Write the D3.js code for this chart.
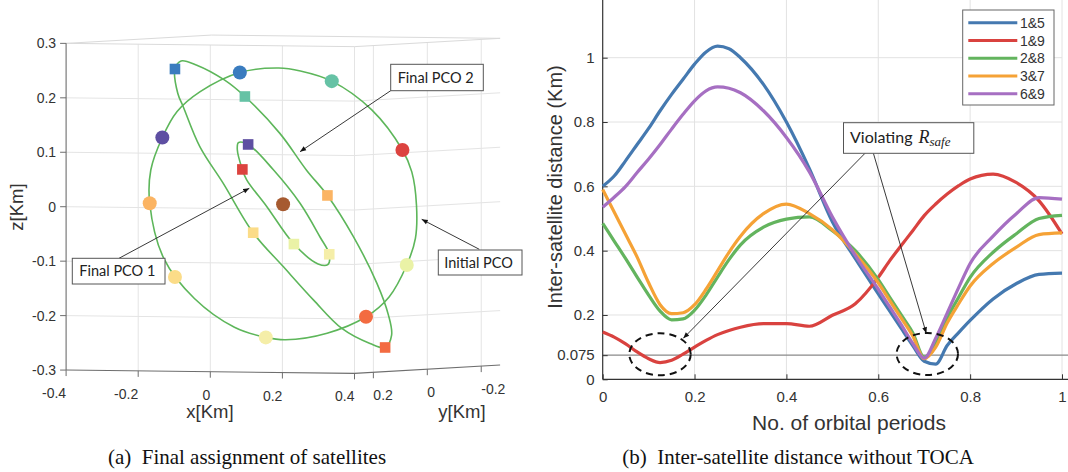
<!DOCTYPE html>
<html>
<head>
<meta charset="utf-8">
<script src="https://cdn.jsdelivr.net/npm/d3@7"></script>
<style>
  body { margin: 0; background: #fff; }
  svg { display: block; }
  text { font-family: "Liberation Sans", Arial, sans-serif; fill: #333; }
  .box-label { font-family: Lato, "Open Sans", sans-serif; fill: #222; }
  .caption { font-family: "Liberation Serif", "Times New Roman", serif; fill: #111; }
</style>
</head>
<body>
<svg id="chart" width="1068" height="472"></svg>
<script>
// ---------- panel (a): satellites, view-plane coordinates [x, z] in km (y = 0) ----------
var initialOrbit = [[-0.012, 0.250], [0.048, 0.245], [0.135, 0.227], [0.246, 0.175], [0.331, 0.102],
                    [0.357, 0.062], [0.370, 0.001], [0.367, -0.060], [0.343, -0.109], [0.294, -0.168],
                    [0.230, -0.205], [0.122, -0.236], [0.007, -0.249], [-0.048, -0.245], [-0.135, -0.227],
                    [-0.246, -0.175], [-0.331, -0.102], [-0.370, -0.001], [-0.367, 0.060], [-0.335, 0.120],
                    [-0.294, 0.168], [-0.230, 0.205], [-0.120, 0.241]];
var finalOrbit1 = [[-0.124, 0.112], [-0.097, 0.109], [-0.027, 0.063], [0.047, 0.002], [0.102, -0.059],
                   [0.128, -0.091], [0.124, -0.110], [0.097, -0.109], [0.030, -0.073], [-0.045, -0.005],
                   [-0.101, 0.044], [-0.113, 0.063], [-0.127, 0.099]];
var finalOrbit2 = [[-0.283, 0.261], [-0.241, 0.254], [-0.163, 0.227], [-0.106, 0.197], [-0.009, 0.130],
                   [0.065, 0.063], [0.123, 0.017], [0.195, -0.058], [0.260, -0.143], [0.292, -0.201],
                   [0.301, -0.238], [0.283, -0.261], [0.241, -0.254], [0.163, -0.227], [0.084, -0.175],
                   [0.001, -0.115], [-0.083, -0.053], [-0.166, 0.037], [-0.231, 0.104], [-0.277, 0.177],
                   [-0.292, 0.201], [-0.300, 0.246]];
// satellites 1..9: initial slot (circle) and final slot (square)
var satInitial = [[-0.120, 0.241], [0.135, 0.227], [0.331, 0.102], [-0.335, 0.120], [-0.370, -0.001],
                  [-0.300, -0.136], [0.343, -0.109], [-0.048, -0.245], [0.230, -0.205]];
var satFinal = [[-0.300, 0.246], [-0.106, 0.197], [-0.113, 0.063], [-0.097, 0.109], [0.123, 0.017],
                [-0.083, -0.053], [0.030, -0.073], [0.128, -0.091], [0.283, -0.261]];
var chief = [0, 0];
var satColors = ['#3a7cbf', '#66c2a5', '#dc433f', '#5e4fa2', '#fbb463', '#fbdc88', '#eaf2a6', '#f5eea8', '#f36b41'];
var xTicks3 = [-0.4, -0.2, 0, 0.2, 0.4];
var yTicks3 = [0.2, 0, -0.2];
var zTicks3 = [-0.3, -0.2, -0.1, 0, 0.1, 0.2, 0.3];

// ---------- panel (b): inter-satellite distance (km) ----------
var periods = [0, 0.025, 0.05, 0.075, 0.1, 0.125, 0.15, 0.175, 0.2, 0.225, 0.25, 0.275, 0.3,
               0.35, 0.4, 0.45, 0.5, 0.55, 0.6, 0.625, 0.65, 0.675, 0.7, 0.725, 0.75, 0.775, 0.8,
               0.85, 0.9, 0.95, 1];
var pairs = ['1&5', '1&9', '2&8', '3&7', '6&9'];
var dist15 = [0.600, 0.632, 0.680, 0.730, 0.780, 0.835, 0.886, 0.933, 0.980, 1.018, 1.036, 1.028, 1.000,
              0.917, 0.800, 0.655, 0.490, 0.375, 0.266, 0.212, 0.158, 0.105, 0.056, 0.047, 0.105, 0.145, 0.183,
              0.250, 0.297, 0.326, 0.330];
var dist19 = [0.147, 0.131, 0.110, 0.085, 0.064, 0.052, 0.059, 0.078, 0.100, 0.121, 0.139, 0.152, 0.162,
              0.173, 0.173, 0.165, 0.199, 0.235, 0.317, 0.369, 0.416, 0.462, 0.509, 0.545, 0.576, 0.602, 0.623,
              0.638, 0.612, 0.555, 0.452];
var dist28 = [0.485, 0.430, 0.375, 0.318, 0.262, 0.212, 0.185, 0.188, 0.215, 0.262, 0.318, 0.372, 0.418,
              0.473, 0.498, 0.505, 0.462, 0.400, 0.310, 0.255, 0.200, 0.145, 0.069, 0.110, 0.190, 0.255, 0.317,
              0.395, 0.452, 0.500, 0.510];
var dist37 = [0.590, 0.520, 0.450, 0.380, 0.300, 0.232, 0.204, 0.207, 0.232, 0.280, 0.337, 0.395, 0.445,
              0.515, 0.545, 0.515, 0.465, 0.390, 0.300, 0.245, 0.190, 0.135, 0.064, 0.100, 0.175, 0.235, 0.290,
              0.360, 0.410, 0.450, 0.455];
var dist69 = [0.535, 0.566, 0.600, 0.643, 0.685, 0.730, 0.778, 0.824, 0.866, 0.897, 0.909, 0.905, 0.891,
              0.835, 0.752, 0.645, 0.505, 0.385, 0.280, 0.225, 0.170, 0.112, 0.066, 0.128, 0.206, 0.285, 0.360,
              0.445, 0.514, 0.565, 0.560];
var pairColors = ['#4579b0', '#d9423f', '#63b45e', '#f5a236', '#a66fc2'];
var xTicks = [0, 0.2, 0.4, 0.6, 0.8, 1];
var yTicks = [0, 0.075, 0.2, 0.4, 0.6, 0.8, 1];
var rSafe = 0.075;

var svg = d3.select('#chart');

// arrow head
svg.append('defs').append('marker')
    .attr('id', 'arrow')
    .attr('viewBox', '0 0 10 10')
    .attr('refX', 10).attr('refY', 5)
    .attr('markerUnits', 'userSpaceOnUse')
    .attr('markerWidth', 7).attr('markerHeight', 6)
    .attr('orient', 'auto')
    .append('path').attr('d', 'M0,1 L10,5 L0,9 z').attr('fill', '#111');

// ================= panel (a): 3D view =================
var xLim = [-0.4, 0.4], yLim = [-0.27, 0.27], zLim = [-0.3, 0.3];
var sx = d3.scaleLinear().domain(xLim).range([-144.2, 144.2]);
var sy = d3.scaleLinear().domain(yLim).range([72.8, -72.8]);
var sz = d3.scaleLinear().domain(zLim).range([163.35, -163.35]);
var origin = [283.1, 204.2];

// simple fixed-camera projection built from the three axis scales
function proj(x, y, z) {
    return [origin[0] + sx(x) + sy(y), origin[1] + sz(z) + sx(x) * 0.0114 - sy(y) * 0.0571];
}
function planePt(d) { return proj(d[0], 0, d[1]); }

var pa = svg.append('g');
var poly = d3.line();

// grid lines
zTicks3.slice(1, -1).forEach(function(z) {
    pa.append('path')
        .attr('d', poly([proj(xLim[0], yLim[1], z), proj(xLim[1], yLim[1], z), proj(xLim[1], yLim[0], z)]))
        .attr('fill', 'none').attr('stroke', '#e4e4e4').attr('stroke-width', 1);
});
xTicks3.slice(1).forEach(function(x) {
    pa.append('path')
        .attr('d', poly([proj(x, yLim[1], zLim[0]), proj(x, yLim[1], zLim[1])]))
        .attr('stroke', '#e4e4e4').attr('stroke-width', 1);
});
yTicks3.forEach(function(y) {
    pa.append('path')
        .attr('d', poly([proj(xLim[1], y, zLim[0]), proj(xLim[1], y, zLim[1])]))
        .attr('stroke', '#e4e4e4').attr('stroke-width', 1);
});
// top face outline
pa.append('path')
    .attr('d', poly([proj(xLim[0], yLim[1], zLim[1]), proj(xLim[1], yLim[1], zLim[1]),
                     proj(xLim[1], yLim[0], zLim[1]), proj(xLim[0], yLim[0], zLim[1])]) + 'Z')
    .attr('fill', 'none').attr('stroke', '#dadada').attr('stroke-width', 1);

// axis lines
pa.append('path')
    .attr('d', poly([proj(xLim[0], yLim[1], zLim[0]), proj(xLim[1], yLim[1], zLim[0]), proj(xLim[1], yLim[0], zLim[0])]))
    .attr('fill', 'none').attr('stroke', '#6e6e6e').attr('stroke-width', 1.1);
pa.append('path')
    .attr('d', poly([proj(xLim[0], yLim[1], zLim[0]), proj(xLim[0], yLim[1], zLim[1])]))
    .attr('stroke', '#6e6e6e').attr('stroke-width', 1.1);

// ticks and tick labels
xTicks3.forEach(function(x) {
    var p = proj(x, yLim[1], zLim[0]);
    pa.append('line').attr('x1', p[0]).attr('y1', p[1]).attr('x2', p[0]).attr('y2', p[1] + 6)
        .attr('stroke', '#6e6e6e');
    pa.append('text').attr('x', p[0]).attr('y', p[1] + 28)
        .attr('text-anchor', 'end').style('font-size', '14px').text(x);
});
yTicks3.forEach(function(y) {
    var p = proj(xLim[1], y, zLim[0]);
    pa.append('line').attr('x1', p[0]).attr('y1', p[1]).attr('x2', p[0]).attr('y2', p[1] + 6)
        .attr('stroke', '#6e6e6e');
    pa.append('text').attr('x', p[0]).attr('y', p[1] + 28)
        .attr('text-anchor', 'start').style('font-size', '14px').text(y);
});
zTicks3.forEach(function(z) {
    var p = proj(xLim[0], yLim[1], z);
    pa.append('line').attr('x1', p[0] - 6).attr('y1', p[1]).attr('x2', p[0]).attr('y2', p[1])
        .attr('stroke', '#6e6e6e');
    pa.append('text').attr('x', p[0] - 10).attr('y', p[1] + 5)
        .attr('text-anchor', 'end').style('font-size', '14px').text(z);
});

// axis titles
pa.append('text').attr('x', 210).attr('y', 418).attr('text-anchor', 'middle')
    .style('font-size', '18.5px').text('x[Km]');
pa.append('text').attr('x', 462).attr('y', 418).attr('text-anchor', 'middle')
    .style('font-size', '18.5px').text('y[Km]');
pa.append('text').attr('transform', 'translate(23,207) rotate(-90)').attr('text-anchor', 'middle')
    .style('font-size', '18.5px').text('z[Km]');

// orbits
var orbitLine = d3.line().curve(d3.curveCatmullRomClosed.alpha(0.5));
[initialOrbit, finalOrbit1, finalOrbit2].forEach(function(orbit) {
    pa.append('path')
        .attr('d', orbitLine(orbit.map(planePt)))
        .attr('fill', 'none').attr('stroke', '#5db65a').attr('stroke-width', 1.6);
});

// chief, initial slots (circles), final slots (squares)
var cp = planePt(chief);
pa.append('circle').attr('cx', cp[0]).attr('cy', cp[1]).attr('r', 7).attr('fill', '#a65a30');

pa.selectAll('.sat-init')
    .data(satInitial)
    .enter()
    .append('circle')
    .attr('class', 'sat-init')
    .attr('cx', function(d) { return planePt(d)[0]; })
    .attr('cy', function(d) { return planePt(d)[1]; })
    .attr('r', 7)
    .attr('fill', function(d, i) { return satColors[i]; });

pa.selectAll('.sat-final')
    .data(satFinal)
    .enter()
    .append('rect')
    .attr('class', 'sat-final')
    .attr('x', function(d) { return planePt(d)[0] - 5.3; })
    .attr('y', function(d) { return planePt(d)[1] - 5.3; })
    .attr('width', 10.6).attr('height', 10.6)
    .attr('fill', function(d, i) { return satColors[i]; });

// call-out boxes
function callout(g, x, y, w, h, label, tx, ty, from, to) {
    g.append('line').attr('x1', from[0]).attr('y1', from[1]).attr('x2', to[0]).attr('y2', to[1])
        .attr('stroke', '#222').attr('stroke-width', 0.9).attr('marker-end', 'url(#arrow)');
    g.append('rect').attr('x', x).attr('y', y).attr('width', w).attr('height', h)
        .attr('fill', '#fff').attr('stroke', '#555').attr('stroke-width', 1);
    g.append('text').attr('class', 'box-label').attr('x', tx).attr('y', ty)
        .style('font-size', '14.5px').text(label);
}
callout(pa, 390.7, 64.3, 92.6, 26.4, 'Final PCO 2', 397.7, 82.8, [390.7, 90.7], [300, 151.7]);
callout(pa, 72.3, 258.3, 92.7, 25.7, 'Final PCO 1', 79.3, 276, [119, 258.3], [249.3, 188.3]);
callout(pa, 438.3, 250, 83.7, 25, 'Initial PCO', 444.3, 267.8, [479.3, 249.3], [421.7, 219.3]);

pa.append('text').attr('class', 'caption').attr('x', 247).attr('y', 464)
    .attr('text-anchor', 'middle').style('font-size', '21px')
    .text('(a)\u2002Final assignment of satellites');

// ================= panel (b): distance vs orbital periods =================
var xR = d3.scaleLinear().domain([0, 1]).range([602.7, 1062]);
var yR = d3.scaleLinear().domain([0, 1]).range([379.3, 57.7]);
var pb = svg.append('g');

// grid
xTicks.slice(1).forEach(function(t) {
    pb.append('line').attr('x1', xR(t)).attr('x2', xR(t)).attr('y1', yR(0)).attr('y2', 0)
        .attr('stroke', '#e2e2e2');
});
yTicks.filter(function(t) { return t >= 0.2; }).forEach(function(t) {
    pb.append('line').attr('x1', xR(0)).attr('x2', xR(1)).attr('y1', yR(t)).attr('y2', yR(t))
        .attr('stroke', '#e2e2e2');
});

// R_safe threshold
pb.append('line').attr('x1', xR(0)).attr('x2', 1068).attr('y1', yR(rSafe)).attr('y2', yR(rSafe))
    .attr('stroke', '#8a8a8a').attr('stroke-width', 1.2);

// axes
var xAxis = d3.axisBottom(xR).tickValues(xTicks).tickSize(-5).tickPadding(12)
    .tickFormat(function(d) { return d; });
var yAxis = d3.axisLeft(yR).tickValues(yTicks).tickSize(-5).tickPadding(8)
    .tickFormat(function(d) { return d; });

var gx = pb.append('g').attr('transform', 'translate(0,' + yR(0) + ')').call(xAxis);
gx.select('.domain').attr('d', 'M' + xR(0) + ',0H1068');
var gy = pb.append('g').attr('transform', 'translate(' + xR(0) + ',0)').call(yAxis);
gy.select('.domain').attr('d', 'M0,' + yR(0) + 'V0');
[gx, gy].forEach(function(g) {
    g.selectAll('.domain').attr('stroke', '#333').attr('stroke-width', 1.2);
    g.selectAll('.tick line').attr('stroke', '#333');
    g.selectAll('.tick text').style('font-size', '15px').style('font-family', '"Liberation Sans", Arial, sans-serif')
        .attr('fill', '#333');
});

// curves
var seriesList = [dist15, dist19, dist28, dist37, dist69];
var distLine = d3.line()
    .x(function(d, i) { return xR(periods[i]); })
    .y(function(d) { return yR(d); })
    .curve(d3.curveMonotoneX);
seriesList.forEach(function(s, k) {
    pb.append('path').attr('d', distLine(s))
        .attr('fill', 'none').attr('stroke', pairColors[k]).attr('stroke-width', 3.2)
        .attr('stroke-linejoin', 'round');
});

// dashed ellipses around violations
[[660, 354.3], [927.3, 354]].forEach(function(c) {
    pb.append('ellipse').attr('cx', c[0]).attr('cy', c[1]).attr('rx', 30.7).attr('ry', 21)
        .attr('fill', 'none').attr('stroke', '#111').attr('stroke-width', 2)
        .attr('stroke-dasharray', '7,5');
});

// annotation
pb.append('line').attr('x1', 865).attr('y1', 153.3).attr('x2', 683.3).attr('y2', 338.3)
    .attr('stroke', '#222').attr('stroke-width', 0.9).attr('marker-end', 'url(#arrow)');
pb.append('line').attr('x1', 873.4).attr('y1', 153.3).attr('x2', 926.3).attr('y2', 333.3)
    .attr('stroke', '#222').attr('stroke-width', 0.9).attr('marker-end', 'url(#arrow)');
pb.append('rect').attr('x', 843.5).attr('y', 122.7).attr('width', 130.3).attr('height', 30.6)
    .attr('fill', '#fff').attr('stroke', '#555');
var vt = pb.append('text').attr('class', 'box-label').attr('x', 850).attr('y', 142.5).style('font-size', '16px');
vt.append('tspan').text('Violating ');
vt.append('tspan').attr('x', 918.5)
    .style('font-family', '"Liberation Serif", serif').style('font-style', 'italic').style('font-size', '18px')
    .text('R');
vt.append('tspan').attr('dy', 3.5)
    .style('font-family', '"Liberation Serif", serif').style('font-style', 'italic').style('font-size', '13px')
    .text('safe');

// legend
var lg = pb.append('g');
lg.append('rect').attr('x', 962.7).attr('y', 10).attr('width', 91.3).attr('height', 95)
    .attr('fill', '#fff').attr('stroke', '#666');
var legendRows = [22.7, 40.5, 58.3, 76, 93.8];
pairs.forEach(function(name, k) {
    lg.append('line').attr('x1', 968.3).attr('x2', 1017.3)
        .attr('y1', legendRows[k]).attr('y2', legendRows[k])
        .attr('stroke', pairColors[k]).attr('stroke-width', 3);
    lg.append('text').attr('x', 1020).attr('y', legendRows[k] + 5)
        .style('font-size', '14px').attr('fill', '#222').text(name);
});

// axis titles
pb.append('text').attr('x', 849).attr('y', 430).attr('text-anchor', 'middle')
    .style('font-size', '21px').text('No. of orbital periods');
pb.append('text').attr('transform', 'translate(562,187) rotate(-90)').attr('text-anchor', 'middle')
    .style('font-size', '20px').text('Inter-satellite distance (Km)');

pb.append('text').attr('class', 'caption').attr('x', 798).attr('y', 464)
    .attr('text-anchor', 'middle').style('font-size', '21px')
    .text('(b)\u2002Inter-satellite distance without TOCA');
</script>
</body>
</html>
